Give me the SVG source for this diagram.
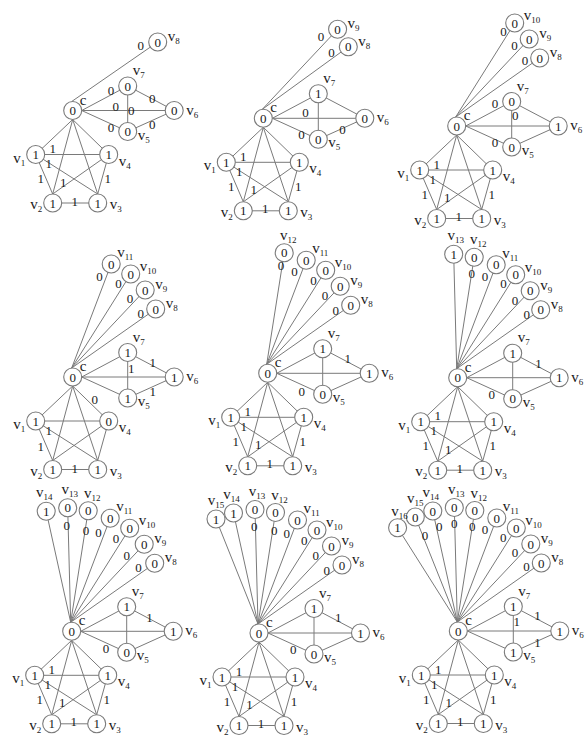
<svg xmlns="http://www.w3.org/2000/svg" width="587" height="736" viewBox="0 0 587 736">
<style>
.e{stroke:#7a7a7a;stroke-width:1;fill:none}
circle{fill:#fff;stroke:#7a7a7a;stroke-width:1.1}
text{font-family:"Liberation Serif","Times New Roman",serif;fill:#1a1a1a}
.n{font-size:13px;text-anchor:middle}
.l{font-size:15px}
.le{font-size:15px;text-anchor:end}
.lm{font-size:15px;text-anchor:middle}
.s{font-size:9px}
</style>
<rect width="587" height="736" fill="#fff"/>

<!-- Panel 1 -->
<g id="panel1" transform="translate(72.7,110.5)">
<g id="p1-edges"><path class="e" d="M0,9L-37,44M0,9L36,44M0,9L-20,83.5M0,9L25,83.5M-37,44L36,44M-37,44L-20,83.5M-37,44L25,83.5M36,44L-20,83.5M36,44L25,83.5M-20,92.5L25,92.5M9,0L55,-24.5M9,0L101.5,0M9,0L55,21M55,-24.5L101.5,0M55,21L101.5,0M55,-24.5L55,21M-1,-9L85,-68.5"/></g>
<g id="p1-edge-labels"><text class="n" x="-20" y="42.5">1</text><text class="n" x="-24" y="57.5">1</text><text class="n" x="-32" y="72.5">1</text><text class="n" x="-9.5" y="76">1</text><text class="n" x="2" y="95">1</text><text class="n" x="35" y="72.5">1</text><text class="n" x="38.3" y="-15.5">0</text><text class="n" x="43" y="0.5">0</text><text class="n" x="58.5" y="4.5">0</text><text class="n" x="79.6" y="-7.2">0</text><text class="n" x="38.3" y="21.8">0</text><text class="n" x="79.6" y="18.5">0</text><text class="n" x="68" y="-60.5">0</text></g>
<g id="p1-c"><circle cx="0" cy="0" r="9"/><text class="n" x="0" y="4.5">0</text><text class="l" x="7" y="-6">c</text></g>
<g id="p1-v1"><circle cx="-37" cy="44" r="9"/><text class="n" x="-37" y="48.5">1</text><text class="le" x="-47.5" y="52">v<tspan class="s" dy="3">1</tspan></text></g>
<g id="p1-v2"><circle cx="-20" cy="92.5" r="9"/><text class="n" x="-20" y="97">1</text><text class="le" x="-30.5" y="98.5">v<tspan class="s" dy="3">2</tspan></text></g>
<g id="p1-v3"><circle cx="25" cy="92.5" r="9"/><text class="n" x="25" y="97">1</text><text class="l" x="37" y="98.5">v<tspan class="s" dy="3">3</tspan></text></g>
<g id="p1-v4"><circle cx="36" cy="44" r="9"/><text class="n" x="36" y="48.5">1</text><text class="l" x="46" y="55">v<tspan class="s" dy="3">4</tspan></text></g>
<g id="p1-v5"><circle cx="55" cy="21" r="9"/><text class="n" x="55" y="25.5">0</text><text class="l" x="65" y="29">v<tspan class="s" dy="3">5</tspan></text></g>
<g id="p1-v6"><circle cx="101.5" cy="0" r="9"/><text class="n" x="101.5" y="4.5">0</text><text class="l" x="113.5" y="4">v<tspan class="s" dy="3">6</tspan></text></g>
<g id="p1-v7"><circle cx="55" cy="-24.5" r="9"/><text class="n" x="55" y="-20">0</text><text class="l" x="60" y="-35.5">v<tspan class="s" dy="3">7</tspan></text></g>
<g id="p1-v8"><circle cx="85" cy="-68.5" r="9"/><text class="n" x="85" y="-64">0</text><text class="l" x="95" y="-69.5">v<tspan class="s" dy="3">8</tspan></text></g>
</g>

<!-- Panel 2 -->
<g id="panel2" transform="translate(263.3,118.3)">
<g id="p2-edges"><path class="e" d="M0,9L-37,44M0,9L36,44M0,9L-20,83.5M0,9L25,83.5M-37,44L36,44M-37,44L-20,83.5M-37,44L25,83.5M36,44L-20,83.5M36,44L25,83.5M-20,92.5L25,92.5M9,0L55,-24.5M9,0L101.5,0M9,0L55,21M55,-24.5L101.5,0M55,21L101.5,0M55,-24.5L55,21M-1,-9L85,-71.5M-1,-9L74.3,-89"/></g>
<g id="p2-edge-labels"><text class="n" x="-20" y="42.5">1</text><text class="n" x="-24" y="57.5">1</text><text class="n" x="-32" y="72.5">1</text><text class="n" x="-9.5" y="76">1</text><text class="n" x="2" y="95">1</text><text class="n" x="35" y="72.5">1</text><text class="n" x="57.7" y="-77.2">0</text><text class="n" x="68.3" y="-61.2">0</text><text class="n" x="42.3" y="-1.2">0</text><text class="n" x="38.3" y="21.2">0</text><text class="n" x="79.3" y="16.2">0</text></g>
<g id="p2-c"><circle cx="0" cy="0" r="9"/><text class="n" x="0" y="4.5">0</text><text class="l" x="7" y="-6">c</text></g>
<g id="p2-v1"><circle cx="-37" cy="44" r="9"/><text class="n" x="-37" y="48.5">1</text><text class="le" x="-47.5" y="52">v<tspan class="s" dy="3">1</tspan></text></g>
<g id="p2-v2"><circle cx="-20" cy="92.5" r="9"/><text class="n" x="-20" y="97">1</text><text class="le" x="-30.5" y="98.5">v<tspan class="s" dy="3">2</tspan></text></g>
<g id="p2-v3"><circle cx="25" cy="92.5" r="9"/><text class="n" x="25" y="97">1</text><text class="l" x="37" y="98.5">v<tspan class="s" dy="3">3</tspan></text></g>
<g id="p2-v4"><circle cx="36" cy="44" r="9"/><text class="n" x="36" y="48.5">1</text><text class="l" x="46" y="55">v<tspan class="s" dy="3">4</tspan></text></g>
<g id="p2-v5"><circle cx="55" cy="21" r="9"/><text class="n" x="55" y="25.5">0</text><text class="l" x="65" y="29">v<tspan class="s" dy="3">5</tspan></text></g>
<g id="p2-v6"><circle cx="101.5" cy="0" r="9"/><text class="n" x="101.5" y="4.5">0</text><text class="l" x="113.5" y="4">v<tspan class="s" dy="3">6</tspan></text></g>
<g id="p2-v7"><circle cx="55" cy="-24.5" r="9"/><text class="n" x="55" y="-20">1</text><text class="l" x="60" y="-35.5">v<tspan class="s" dy="3">7</tspan></text></g>
<g id="p2-v8"><circle cx="85" cy="-71.5" r="9"/><text class="n" x="85" y="-67">0</text><text class="l" x="95" y="-72.5">v<tspan class="s" dy="3">8</tspan></text></g>
<g id="p2-v9"><circle cx="74.3" cy="-89" r="9"/><text class="n" x="74.3" y="-84.5">0</text><text class="l" x="84.3" y="-90">v<tspan class="s" dy="3">9</tspan></text></g>
</g>

<!-- Panel 3 -->
<g id="panel3" transform="translate(456.7,126)">
<g id="p3-edges"><path class="e" d="M0,9L-37,44M0,9L36,44M0,9L-20,83.5M0,9L25,83.5M-37,44L36,44M-37,44L-20,83.5M-37,44L25,83.5M36,44L-20,83.5M36,44L25,83.5M-20,92.5L25,92.5M9,0L55,-24.5M9,0L101.5,0M9,0L55,21M55,-24.5L101.5,0M55,21L101.5,0M55,-24.5L55,21M-1,-9L83,-68M-1,-9L72.5,-87M-1,-9L58,-103"/></g>
<g id="p3-edge-labels"><text class="n" x="-20" y="42.5">1</text><text class="n" x="-24" y="57.5">1</text><text class="n" x="-32" y="72.5">1</text><text class="n" x="-9.5" y="76">1</text><text class="n" x="2" y="95">1</text><text class="n" x="35" y="72.5">1</text><text class="n" x="46.7" y="-89.8">0</text><text class="n" x="57.7" y="-76.5">0</text><text class="n" x="68.3" y="-61.5">0</text><text class="n" x="38.3" y="-18.2">0</text><text class="n" x="58.5" y="-6.5">0</text><text class="n" x="38.3" y="21.2">0</text></g>
<g id="p3-c"><circle cx="0" cy="0" r="9"/><text class="n" x="0" y="4.5">0</text><text class="l" x="7" y="-6">c</text></g>
<g id="p3-v1"><circle cx="-37" cy="44" r="9"/><text class="n" x="-37" y="48.5">1</text><text class="le" x="-47.5" y="52">v<tspan class="s" dy="3">1</tspan></text></g>
<g id="p3-v2"><circle cx="-20" cy="92.5" r="9"/><text class="n" x="-20" y="97">1</text><text class="le" x="-30.5" y="98.5">v<tspan class="s" dy="3">2</tspan></text></g>
<g id="p3-v3"><circle cx="25" cy="92.5" r="9"/><text class="n" x="25" y="97">1</text><text class="l" x="37" y="98.5">v<tspan class="s" dy="3">3</tspan></text></g>
<g id="p3-v4"><circle cx="36" cy="44" r="9"/><text class="n" x="36" y="48.5">1</text><text class="l" x="46" y="55">v<tspan class="s" dy="3">4</tspan></text></g>
<g id="p3-v5"><circle cx="55" cy="21" r="9"/><text class="n" x="55" y="25.5">0</text><text class="l" x="65" y="29">v<tspan class="s" dy="3">5</tspan></text></g>
<g id="p3-v6"><circle cx="101.5" cy="0" r="9"/><text class="n" x="101.5" y="4.5">1</text><text class="l" x="113.5" y="4">v<tspan class="s" dy="3">6</tspan></text></g>
<g id="p3-v7"><circle cx="55" cy="-24.5" r="9"/><text class="n" x="55" y="-20">0</text><text class="l" x="60" y="-35.5">v<tspan class="s" dy="3">7</tspan></text></g>
<g id="p3-v8"><circle cx="83" cy="-68" r="9"/><text class="n" x="83" y="-63.5">0</text><text class="l" x="93" y="-69">v<tspan class="s" dy="3">8</tspan></text></g>
<g id="p3-v9"><circle cx="72.5" cy="-87" r="9"/><text class="n" x="72.5" y="-82.5">0</text><text class="l" x="82.5" y="-88">v<tspan class="s" dy="3">9</tspan></text></g>
<g id="p3-v10"><circle cx="58" cy="-103" r="9"/><text class="n" x="58" y="-98.5">0</text><text class="l" x="67" y="-106">v<tspan class="s" dy="3">10</tspan></text></g>
</g>

<!-- Panel 4 -->
<g id="panel4" transform="translate(72.7,377)">
<g id="p4-edges"><path class="e" d="M0,9L-37,44M0,9L36,44M0,9L-20,83.5M0,9L25,83.5M-37,44L36,44M-37,44L-20,83.5M-37,44L25,83.5M36,44L-20,83.5M36,44L25,83.5M-20,92.5L25,92.5M9,0L55,-24.5M9,0L101.5,0M9,0L55,21M55,-24.5L101.5,0M55,21L101.5,0M55,-24.5L55,21M-1,-9L83,-68M-1,-9L72.5,-87M-1,-9L58,-103M-1,-9L38.5,-113"/></g>
<g id="p4-edge-labels"><text class="n" x="-24" y="58">1</text><text class="n" x="-32" y="74">1</text><text class="n" x="2" y="95.5">1</text><text class="n" x="22" y="26.5">0</text><text class="n" x="26.7" y="-96.2">0</text><text class="n" x="45.7" y="-88.8">0</text><text class="n" x="57.3" y="-73.8">0</text><text class="n" x="68" y="-58.8">0</text><text class="n" x="80" y="-10.5">1</text><text class="n" x="58.5" y="-3.8">1</text><text class="n" x="80" y="18.5">1</text></g>
<g id="p4-c"><circle cx="0" cy="0" r="9"/><text class="n" x="0" y="4.5">0</text><text class="l" x="7" y="-6">c</text></g>
<g id="p4-v1"><circle cx="-37" cy="44" r="9"/><text class="n" x="-37" y="48.5">1</text><text class="le" x="-47.5" y="52">v<tspan class="s" dy="3">1</tspan></text></g>
<g id="p4-v2"><circle cx="-20" cy="92.5" r="9"/><text class="n" x="-20" y="97">1</text><text class="le" x="-30.5" y="98.5">v<tspan class="s" dy="3">2</tspan></text></g>
<g id="p4-v3"><circle cx="25" cy="92.5" r="9"/><text class="n" x="25" y="97">1</text><text class="l" x="37" y="98.5">v<tspan class="s" dy="3">3</tspan></text></g>
<g id="p4-v4"><circle cx="36" cy="44" r="9"/><text class="n" x="36" y="48.5">0</text><text class="l" x="46" y="55">v<tspan class="s" dy="3">4</tspan></text></g>
<g id="p4-v5"><circle cx="55" cy="21" r="9"/><text class="n" x="55" y="25.5">1</text><text class="l" x="65" y="29">v<tspan class="s" dy="3">5</tspan></text></g>
<g id="p4-v6"><circle cx="101.5" cy="0" r="9"/><text class="n" x="101.5" y="4.5">1</text><text class="l" x="113.5" y="4">v<tspan class="s" dy="3">6</tspan></text></g>
<g id="p4-v7"><circle cx="55" cy="-24.5" r="9"/><text class="n" x="55" y="-20">1</text><text class="l" x="60" y="-35.5">v<tspan class="s" dy="3">7</tspan></text></g>
<g id="p4-v8"><circle cx="83" cy="-68" r="9"/><text class="n" x="83" y="-63.5">0</text><text class="l" x="93" y="-69">v<tspan class="s" dy="3">8</tspan></text></g>
<g id="p4-v9"><circle cx="72.5" cy="-87" r="9"/><text class="n" x="72.5" y="-82.5">0</text><text class="l" x="82.5" y="-88">v<tspan class="s" dy="3">9</tspan></text></g>
<g id="p4-v10"><circle cx="58" cy="-103" r="9"/><text class="n" x="58" y="-98.5">0</text><text class="l" x="67" y="-106">v<tspan class="s" dy="3">10</tspan></text></g>
<g id="p4-v11"><circle cx="38.5" cy="-113" r="9"/><text class="n" x="38.5" y="-108.5">0</text><text class="l" x="44.5" y="-120">v<tspan class="s" dy="3">11</tspan></text></g>
</g>

<!-- Panel 5 -->
<g id="panel5" transform="translate(267.7,373.3)">
<g id="p5-edges"><path class="e" d="M0,9L-37,44M0,9L36,44M0,9L-20,83.5M0,9L25,83.5M-37,44L36,44M-37,44L-20,83.5M-37,44L25,83.5M36,44L-20,83.5M36,44L25,83.5M-20,92.5L25,92.5M9,0L55,-24.5M9,0L101.5,0M9,0L55,21M55,-24.5L101.5,0M55,21L101.5,0M55,-24.5L55,21M-1,-9L83,-68M-1,-9L72.5,-87M-1,-9L58,-103M-1,-9L38.5,-113M-1,-9L16.5,-120.5"/></g>
<g id="p5-edge-labels"><text class="n" x="-20" y="42.5">1</text><text class="n" x="-24" y="57.5">1</text><text class="n" x="-32" y="72.5">1</text><text class="n" x="-9.5" y="76">1</text><text class="n" x="2" y="95">1</text><text class="n" x="35" y="72.5">1</text><text class="n" x="13.3" y="-103.8">0</text><text class="n" x="26.7" y="-97.2">0</text><text class="n" x="45.7" y="-88.8">0</text><text class="n" x="57.3" y="-73.8">0</text><text class="n" x="68" y="-58.8">0</text><text class="n" x="80" y="-10.5">1</text><text class="n" x="34" y="22.8">0</text></g>
<g id="p5-c"><circle cx="0" cy="0" r="9"/><text class="n" x="0" y="4.5">0</text><text class="l" x="7" y="-6">c</text></g>
<g id="p5-v1"><circle cx="-37" cy="44" r="9"/><text class="n" x="-37" y="48.5">1</text><text class="le" x="-47.5" y="52">v<tspan class="s" dy="3">1</tspan></text></g>
<g id="p5-v2"><circle cx="-20" cy="92.5" r="9"/><text class="n" x="-20" y="97">1</text><text class="le" x="-30.5" y="98.5">v<tspan class="s" dy="3">2</tspan></text></g>
<g id="p5-v3"><circle cx="25" cy="92.5" r="9"/><text class="n" x="25" y="97">1</text><text class="l" x="37" y="98.5">v<tspan class="s" dy="3">3</tspan></text></g>
<g id="p5-v4"><circle cx="36" cy="44" r="9"/><text class="n" x="36" y="48.5">1</text><text class="l" x="46" y="55">v<tspan class="s" dy="3">4</tspan></text></g>
<g id="p5-v5"><circle cx="55" cy="21" r="9"/><text class="n" x="55" y="25.5">0</text><text class="l" x="65" y="29">v<tspan class="s" dy="3">5</tspan></text></g>
<g id="p5-v6"><circle cx="101.5" cy="0" r="9"/><text class="n" x="101.5" y="4.5">1</text><text class="l" x="113.5" y="4">v<tspan class="s" dy="3">6</tspan></text></g>
<g id="p5-v7"><circle cx="55" cy="-24.5" r="9"/><text class="n" x="55" y="-20">1</text><text class="l" x="60" y="-35.5">v<tspan class="s" dy="3">7</tspan></text></g>
<g id="p5-v8"><circle cx="83" cy="-68" r="9"/><text class="n" x="83" y="-63.5">0</text><text class="l" x="93" y="-69">v<tspan class="s" dy="3">8</tspan></text></g>
<g id="p5-v9"><circle cx="72.5" cy="-87" r="9"/><text class="n" x="72.5" y="-82.5">0</text><text class="l" x="82.5" y="-88">v<tspan class="s" dy="3">9</tspan></text></g>
<g id="p5-v10"><circle cx="58" cy="-103" r="9"/><text class="n" x="58" y="-98.5">0</text><text class="l" x="67" y="-106">v<tspan class="s" dy="3">10</tspan></text></g>
<g id="p5-v11"><circle cx="38.5" cy="-113" r="9"/><text class="n" x="38.5" y="-108.5">0</text><text class="l" x="44.5" y="-120">v<tspan class="s" dy="3">11</tspan></text></g>
<g id="p5-v12"><circle cx="16.5" cy="-120.5" r="9"/><text class="n" x="16.5" y="-116">0</text><text class="lm" x="20.5" y="-133.5">v<tspan class="s" dy="3">12</tspan></text></g>
</g>

<!-- Panel 6 -->
<g id="panel6" transform="translate(457.7,377.7)">
<g id="p6-edges"><path class="e" d="M0,9L-37,44M0,9L36,44M0,9L-20,83.5M0,9L25,83.5M-37,44L36,44M-37,44L-20,83.5M-37,44L25,83.5M36,44L-20,83.5M36,44L25,83.5M-20,92.5L25,92.5M9,0L55,-24.5M9,0L101.5,0M9,0L55,21M55,-24.5L101.5,0M55,21L101.5,0M55,-24.5L55,21M-1,-9L83,-68M-1,-9L72.5,-87M-1,-9L58,-103M-1,-9L38.5,-113M-1,-9L16.5,-120.5M-1,-9L-4,-123.5"/></g>
<g id="p6-edge-labels"><text class="n" x="-20" y="42.5">1</text><text class="n" x="-24" y="57.5">1</text><text class="n" x="-32" y="72.5">1</text><text class="n" x="-9.5" y="76">1</text><text class="n" x="2" y="95">1</text><text class="n" x="35" y="72.5">1</text><text class="n" x="14" y="-99.8">0</text><text class="n" x="27.3" y="-96.5">0</text><text class="n" x="45.7" y="-89.8">0</text><text class="n" x="57.3" y="-73.2">0</text><text class="n" x="69" y="-59.2">0</text><text class="n" x="80.7" y="-9.8">1</text><text class="n" x="34" y="21.8">0</text></g>
<g id="p6-c"><circle cx="0" cy="0" r="9"/><text class="n" x="0" y="4.5">0</text><text class="l" x="7" y="-6">c</text></g>
<g id="p6-v1"><circle cx="-37" cy="44" r="9"/><text class="n" x="-37" y="48.5">1</text><text class="le" x="-47.5" y="52">v<tspan class="s" dy="3">1</tspan></text></g>
<g id="p6-v2"><circle cx="-20" cy="92.5" r="9"/><text class="n" x="-20" y="97">1</text><text class="le" x="-30.5" y="98.5">v<tspan class="s" dy="3">2</tspan></text></g>
<g id="p6-v3"><circle cx="25" cy="92.5" r="9"/><text class="n" x="25" y="97">1</text><text class="l" x="37" y="98.5">v<tspan class="s" dy="3">3</tspan></text></g>
<g id="p6-v4"><circle cx="36" cy="44" r="9"/><text class="n" x="36" y="48.5">1</text><text class="l" x="46" y="55">v<tspan class="s" dy="3">4</tspan></text></g>
<g id="p6-v5"><circle cx="55" cy="21" r="9"/><text class="n" x="55" y="25.5">0</text><text class="l" x="65" y="29">v<tspan class="s" dy="3">5</tspan></text></g>
<g id="p6-v6"><circle cx="101.5" cy="0" r="9"/><text class="n" x="101.5" y="4.5">1</text><text class="l" x="113.5" y="4">v<tspan class="s" dy="3">6</tspan></text></g>
<g id="p6-v7"><circle cx="55" cy="-24.5" r="9"/><text class="n" x="55" y="-20">1</text><text class="l" x="60" y="-35.5">v<tspan class="s" dy="3">7</tspan></text></g>
<g id="p6-v8"><circle cx="83" cy="-68" r="9"/><text class="n" x="83" y="-63.5">0</text><text class="l" x="93" y="-69">v<tspan class="s" dy="3">8</tspan></text></g>
<g id="p6-v9"><circle cx="72.5" cy="-87" r="9"/><text class="n" x="72.5" y="-82.5">0</text><text class="l" x="82.5" y="-88">v<tspan class="s" dy="3">9</tspan></text></g>
<g id="p6-v10"><circle cx="58" cy="-103" r="9"/><text class="n" x="58" y="-98.5">0</text><text class="l" x="67" y="-106">v<tspan class="s" dy="3">10</tspan></text></g>
<g id="p6-v11"><circle cx="38.5" cy="-113" r="9"/><text class="n" x="38.5" y="-108.5">0</text><text class="l" x="44.5" y="-120">v<tspan class="s" dy="3">11</tspan></text></g>
<g id="p6-v12"><circle cx="16.5" cy="-120.5" r="9"/><text class="n" x="16.5" y="-116">0</text><text class="lm" x="20.5" y="-133.5">v<tspan class="s" dy="3">12</tspan></text></g>
<g id="p6-v13"><circle cx="-4" cy="-123.5" r="9"/><text class="n" x="-4" y="-119">1</text><text class="lm" x="-2" y="-137.5">v<tspan class="s" dy="3">13</tspan></text></g>
</g>

<!-- Panel 7 -->
<g id="panel7" transform="translate(71.7,631.3)">
<g id="p7-edges"><path class="e" d="M0,9L-37,44M0,9L36,44M0,9L-20,83.5M0,9L25,83.5M-37,44L36,44M-37,44L-20,83.5M-37,44L25,83.5M36,44L-20,83.5M36,44L25,83.5M-20,92.5L25,92.5M9,0L55,-24.5M9,0L101.5,0M9,0L55,21M55,-24.5L101.5,0M55,21L101.5,0M55,-24.5L55,21M-1,-9L83,-68M-1,-9L72.5,-87M-1,-9L58,-103M-1,-9L38.5,-113M-1,-9L16.5,-120.5M-1,-9L-4,-123.5M-1,-9L-25.5,-120"/></g>
<g id="p7-edge-labels"><text class="n" x="-20" y="42.5">1</text><text class="n" x="-24" y="57.5">1</text><text class="n" x="-32" y="72.5">1</text><text class="n" x="-9.5" y="76">1</text><text class="n" x="2" y="95">1</text><text class="n" x="35" y="72.5">1</text><text class="n" x="-5" y="-101.5">0</text><text class="n" x="14.3" y="-96.5">0</text><text class="n" x="26.7" y="-94.8">0</text><text class="n" x="44.3" y="-88.2">0</text><text class="n" x="55" y="-71.5">0</text><text class="n" x="66.7" y="-59.8">0</text><text class="n" x="77.7" y="-9.8">1</text><text class="n" x="34.3" y="21.8">0</text></g>
<g id="p7-c"><circle cx="0" cy="0" r="9"/><text class="n" x="0" y="4.5">0</text><text class="l" x="7" y="-6">c</text></g>
<g id="p7-v1"><circle cx="-37" cy="44" r="9"/><text class="n" x="-37" y="48.5">1</text><text class="le" x="-47.5" y="52">v<tspan class="s" dy="3">1</tspan></text></g>
<g id="p7-v2"><circle cx="-20" cy="92.5" r="9"/><text class="n" x="-20" y="97">1</text><text class="le" x="-30.5" y="98.5">v<tspan class="s" dy="3">2</tspan></text></g>
<g id="p7-v3"><circle cx="25" cy="92.5" r="9"/><text class="n" x="25" y="97">1</text><text class="l" x="37" y="98.5">v<tspan class="s" dy="3">3</tspan></text></g>
<g id="p7-v4"><circle cx="36" cy="44" r="9"/><text class="n" x="36" y="48.5">1</text><text class="l" x="46" y="55">v<tspan class="s" dy="3">4</tspan></text></g>
<g id="p7-v5"><circle cx="55" cy="21" r="9"/><text class="n" x="55" y="25.5">0</text><text class="l" x="65" y="29">v<tspan class="s" dy="3">5</tspan></text></g>
<g id="p7-v6"><circle cx="101.5" cy="0" r="9"/><text class="n" x="101.5" y="4.5">1</text><text class="l" x="113.5" y="4">v<tspan class="s" dy="3">6</tspan></text></g>
<g id="p7-v7"><circle cx="55" cy="-24.5" r="9"/><text class="n" x="55" y="-20">1</text><text class="l" x="60" y="-35.5">v<tspan class="s" dy="3">7</tspan></text></g>
<g id="p7-v8"><circle cx="83" cy="-68" r="9"/><text class="n" x="83" y="-63.5">0</text><text class="l" x="93" y="-69">v<tspan class="s" dy="3">8</tspan></text></g>
<g id="p7-v9"><circle cx="72.5" cy="-87" r="9"/><text class="n" x="72.5" y="-82.5">0</text><text class="l" x="82.5" y="-88">v<tspan class="s" dy="3">9</tspan></text></g>
<g id="p7-v10"><circle cx="58" cy="-103" r="9"/><text class="n" x="58" y="-98.5">0</text><text class="l" x="67" y="-106">v<tspan class="s" dy="3">10</tspan></text></g>
<g id="p7-v11"><circle cx="38.5" cy="-113" r="9"/><text class="n" x="38.5" y="-108.5">0</text><text class="l" x="44.5" y="-120">v<tspan class="s" dy="3">11</tspan></text></g>
<g id="p7-v12"><circle cx="16.5" cy="-120.5" r="9"/><text class="n" x="16.5" y="-116">0</text><text class="lm" x="20.5" y="-133.5">v<tspan class="s" dy="3">12</tspan></text></g>
<g id="p7-v13"><circle cx="-4" cy="-123.5" r="9"/><text class="n" x="-4" y="-119">0</text><text class="lm" x="-2" y="-137.5">v<tspan class="s" dy="3">13</tspan></text></g>
<g id="p7-v14"><circle cx="-25.5" cy="-120" r="9"/><text class="n" x="-25.5" y="-115.5">1</text><text class="lm" x="-27.5" y="-134">v<tspan class="s" dy="3">14</tspan></text></g>
</g>

<!-- Panel 8 -->
<g id="panel8" transform="translate(259,633)">
<g id="p8-edges"><path class="e" d="M0,9L-37,44M0,9L36,44M0,9L-20,83.5M0,9L25,83.5M-37,44L36,44M-37,44L-20,83.5M-37,44L25,83.5M36,44L-20,83.5M36,44L25,83.5M-20,92.5L25,92.5M9,0L55,-24.5M9,0L101.5,0M9,0L55,21M55,-24.5L101.5,0M55,21L101.5,0M55,-24.5L55,21M-1,-9L83,-68M-1,-9L72.5,-87M-1,-9L58,-103M-1,-9L38.5,-113M-1,-9L16.5,-120.5M-1,-9L-4,-123.5M-1,-9L-25.5,-120M-1,-9L-43,-114"/></g>
<g id="p8-edge-labels"><text class="n" x="-20" y="42.5">1</text><text class="n" x="-24" y="57.5">1</text><text class="n" x="-32" y="72.5">1</text><text class="n" x="-9.5" y="76">1</text><text class="n" x="2" y="95">1</text><text class="n" x="35" y="72.5">1</text><text class="n" x="-4.7" y="-102.2">0</text><text class="n" x="15.3" y="-98.2">0</text><text class="n" x="27.7" y="-95.5">0</text><text class="n" x="45.3" y="-88.2">0</text><text class="n" x="56.7" y="-73.2">0</text><text class="n" x="67.7" y="-58.2">0</text><text class="n" x="79.3" y="-11.5">1</text><text class="n" x="34.3" y="21.2">0</text></g>
<g id="p8-c"><circle cx="0" cy="0" r="9"/><text class="n" x="0" y="4.5">0</text><text class="l" x="7" y="-6">c</text></g>
<g id="p8-v1"><circle cx="-37" cy="44" r="9"/><text class="n" x="-37" y="48.5">1</text><text class="le" x="-47.5" y="52">v<tspan class="s" dy="3">1</tspan></text></g>
<g id="p8-v2"><circle cx="-20" cy="92.5" r="9"/><text class="n" x="-20" y="97">1</text><text class="le" x="-30.5" y="98.5">v<tspan class="s" dy="3">2</tspan></text></g>
<g id="p8-v3"><circle cx="25" cy="92.5" r="9"/><text class="n" x="25" y="97">1</text><text class="l" x="37" y="98.5">v<tspan class="s" dy="3">3</tspan></text></g>
<g id="p8-v4"><circle cx="36" cy="44" r="9"/><text class="n" x="36" y="48.5">1</text><text class="l" x="46" y="55">v<tspan class="s" dy="3">4</tspan></text></g>
<g id="p8-v5"><circle cx="55" cy="21" r="9"/><text class="n" x="55" y="25.5">0</text><text class="l" x="65" y="29">v<tspan class="s" dy="3">5</tspan></text></g>
<g id="p8-v6"><circle cx="101.5" cy="0" r="9"/><text class="n" x="101.5" y="4.5">1</text><text class="l" x="113.5" y="4">v<tspan class="s" dy="3">6</tspan></text></g>
<g id="p8-v7"><circle cx="55" cy="-24.5" r="9"/><text class="n" x="55" y="-20">1</text><text class="l" x="60" y="-35.5">v<tspan class="s" dy="3">7</tspan></text></g>
<g id="p8-v8"><circle cx="83" cy="-68" r="9"/><text class="n" x="83" y="-63.5">0</text><text class="l" x="93" y="-69">v<tspan class="s" dy="3">8</tspan></text></g>
<g id="p8-v9"><circle cx="72.5" cy="-87" r="9"/><text class="n" x="72.5" y="-82.5">0</text><text class="l" x="82.5" y="-88">v<tspan class="s" dy="3">9</tspan></text></g>
<g id="p8-v10"><circle cx="58" cy="-103" r="9"/><text class="n" x="58" y="-98.5">0</text><text class="l" x="67" y="-106">v<tspan class="s" dy="3">10</tspan></text></g>
<g id="p8-v11"><circle cx="38.5" cy="-113" r="9"/><text class="n" x="38.5" y="-108.5">0</text><text class="l" x="44.5" y="-120">v<tspan class="s" dy="3">11</tspan></text></g>
<g id="p8-v12"><circle cx="16.5" cy="-120.5" r="9"/><text class="n" x="16.5" y="-116">0</text><text class="lm" x="20.5" y="-133.5">v<tspan class="s" dy="3">12</tspan></text></g>
<g id="p8-v13"><circle cx="-4" cy="-123.5" r="9"/><text class="n" x="-4" y="-119">0</text><text class="lm" x="-2" y="-137.5">v<tspan class="s" dy="3">13</tspan></text></g>
<g id="p8-v14"><circle cx="-25.5" cy="-120" r="9"/><text class="n" x="-25.5" y="-115.5">1</text><text class="lm" x="-27.5" y="-134">v<tspan class="s" dy="3">14</tspan></text></g>
<g id="p8-v15"><circle cx="-43" cy="-114" r="9"/><text class="n" x="-43" y="-109.5">1</text><text class="lm" x="-43" y="-128">v<tspan class="s" dy="3">15</tspan></text></g>
</g>

<!-- Panel 9 -->
<g id="panel9" transform="translate(458.3,631)">
<g id="p9-edges"><path class="e" d="M0,9L-37,44M0,9L36,44M0,9L-20,83.5M0,9L25,83.5M-37,44L36,44M-37,44L-20,83.5M-37,44L25,83.5M36,44L-20,83.5M36,44L25,83.5M-20,92.5L25,92.5M9,0L55,-24.5M9,0L101.5,0M9,0L55,21M55,-24.5L101.5,0M55,21L101.5,0M55,-24.5L55,21M-1,-9L83,-68M-1,-9L72.5,-87M-1,-9L58,-103M-1,-9L38.5,-113M-1,-9L16.5,-120.5M-1,-9L-4,-123.5M-1,-9L-25.5,-120M-1,-9L-43,-114M-1,-9L-60.7,-103.3"/></g>
<g id="p9-edge-labels"><text class="n" x="-20" y="42.5">1</text><text class="n" x="-24" y="57.5">1</text><text class="n" x="-32" y="72.5">1</text><text class="n" x="-9.5" y="76">1</text><text class="n" x="2" y="95">1</text><text class="n" x="35" y="72.5">1</text><text class="n" x="-33.3" y="-91.2">0</text><text class="n" x="-19" y="-100.2">0</text><text class="n" x="-4" y="-102.8">0</text><text class="n" x="14" y="-100.2">0</text><text class="n" x="26.7" y="-96.8">0</text><text class="n" x="45" y="-89.5">0</text><text class="n" x="56.7" y="-74.5">0</text><text class="n" x="68.3" y="-60.2">0</text><text class="n" x="79.3" y="-11.2">1</text><text class="n" x="58.5" y="-5.5">1</text><text class="n" x="79.3" y="15.5">1</text></g>
<g id="p9-c"><circle cx="0" cy="0" r="9"/><text class="n" x="0" y="4.5">0</text><text class="l" x="7" y="-6">c</text></g>
<g id="p9-v1"><circle cx="-37" cy="44" r="9"/><text class="n" x="-37" y="48.5">1</text><text class="le" x="-47.5" y="52">v<tspan class="s" dy="3">1</tspan></text></g>
<g id="p9-v2"><circle cx="-20" cy="92.5" r="9"/><text class="n" x="-20" y="97">1</text><text class="le" x="-30.5" y="98.5">v<tspan class="s" dy="3">2</tspan></text></g>
<g id="p9-v3"><circle cx="25" cy="92.5" r="9"/><text class="n" x="25" y="97">1</text><text class="l" x="37" y="98.5">v<tspan class="s" dy="3">3</tspan></text></g>
<g id="p9-v4"><circle cx="36" cy="44" r="9"/><text class="n" x="36" y="48.5">1</text><text class="l" x="46" y="55">v<tspan class="s" dy="3">4</tspan></text></g>
<g id="p9-v5"><circle cx="55" cy="21" r="9"/><text class="n" x="55" y="25.5">1</text><text class="l" x="65" y="29">v<tspan class="s" dy="3">5</tspan></text></g>
<g id="p9-v6"><circle cx="101.5" cy="0" r="9"/><text class="n" x="101.5" y="4.5">1</text><text class="l" x="113.5" y="4">v<tspan class="s" dy="3">6</tspan></text></g>
<g id="p9-v7"><circle cx="55" cy="-24.5" r="9"/><text class="n" x="55" y="-20">1</text><text class="l" x="60" y="-35.5">v<tspan class="s" dy="3">7</tspan></text></g>
<g id="p9-v8"><circle cx="83" cy="-68" r="9"/><text class="n" x="83" y="-63.5">0</text><text class="l" x="93" y="-69">v<tspan class="s" dy="3">8</tspan></text></g>
<g id="p9-v9"><circle cx="72.5" cy="-87" r="9"/><text class="n" x="72.5" y="-82.5">0</text><text class="l" x="82.5" y="-88">v<tspan class="s" dy="3">9</tspan></text></g>
<g id="p9-v10"><circle cx="58" cy="-103" r="9"/><text class="n" x="58" y="-98.5">0</text><text class="l" x="67" y="-106">v<tspan class="s" dy="3">10</tspan></text></g>
<g id="p9-v11"><circle cx="38.5" cy="-113" r="9"/><text class="n" x="38.5" y="-108.5">0</text><text class="l" x="44.5" y="-120">v<tspan class="s" dy="3">11</tspan></text></g>
<g id="p9-v12"><circle cx="16.5" cy="-120.5" r="9"/><text class="n" x="16.5" y="-116">0</text><text class="lm" x="20.5" y="-133.5">v<tspan class="s" dy="3">12</tspan></text></g>
<g id="p9-v13"><circle cx="-4" cy="-123.5" r="9"/><text class="n" x="-4" y="-119">0</text><text class="lm" x="-2" y="-137.5">v<tspan class="s" dy="3">13</tspan></text></g>
<g id="p9-v14"><circle cx="-25.5" cy="-120" r="9"/><text class="n" x="-25.5" y="-115.5">0</text><text class="lm" x="-27.5" y="-134">v<tspan class="s" dy="3">14</tspan></text></g>
<g id="p9-v15"><circle cx="-43" cy="-114" r="9"/><text class="n" x="-43" y="-109.5">0</text><text class="lm" x="-43" y="-128">v<tspan class="s" dy="3">15</tspan></text></g>
<g id="p9-v16"><circle cx="-60.7" cy="-103.3" r="9"/><text class="n" x="-60.7" y="-98.8">1</text><text class="lm" x="-58.7" y="-115.3">v<tspan class="s" dy="3">16</tspan></text></g>
</g>
</svg>
